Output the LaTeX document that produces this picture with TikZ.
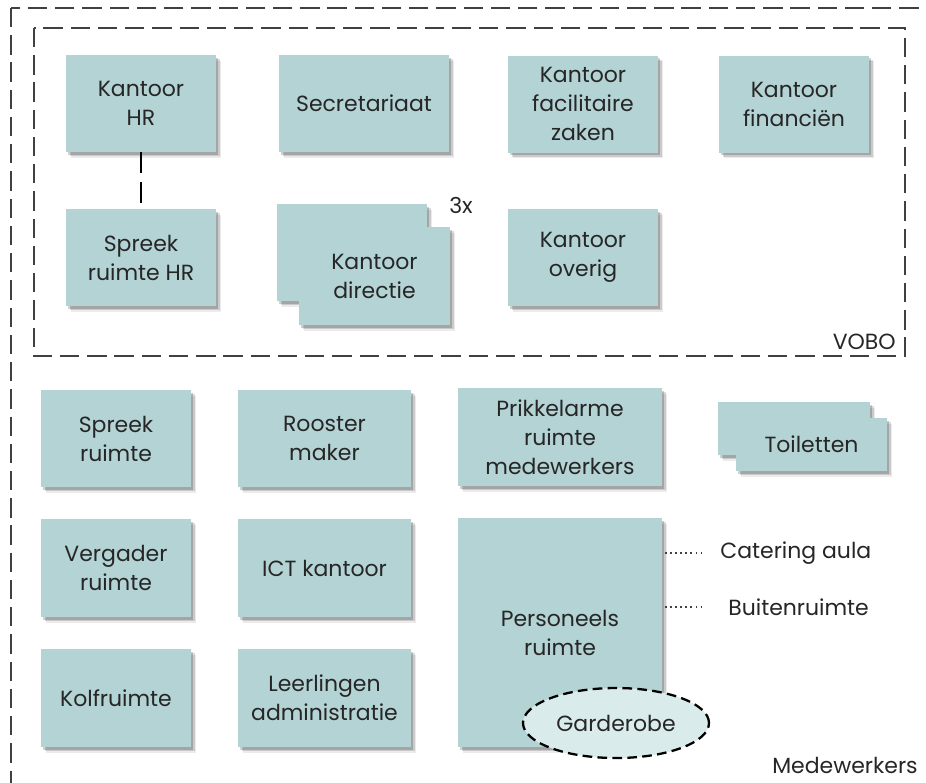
\documentclass[tikz,border=0pt]{standalone}
\usepackage{fontspec}
\setmainfont{Poppins}
\usetikzlibrary{shadows,shapes.geometric,calc}
\definecolor{boxc}{HTML}{B4D3D5}
\definecolor{ellc}{HTML}{DAEBEC}
\definecolor{txt}{HTML}{262626}
\definecolor{framec}{HTML}{404040}
\tikzset{
  room/.style={rectangle, fill=boxc, draw=none, align=center, inner sep=0pt,
    text=txt, font=\fontsize{12.5}{16.5}\selectfont,
    drop shadow={shadow xshift=1.2pt, shadow yshift=-1.6pt, opacity=0.18, fill=black},
    drop shadow={shadow xshift=2.0pt, shadow yshift=-2.5pt, opacity=0.14, fill=black},
    drop shadow={shadow xshift=2.8pt, shadow yshift=-3.3pt, opacity=0.08, fill=black}},
  sz/.style 2 args={minimum width=#1*0.02cm, minimum height=#2*0.02cm},
  lbl/.style={inner sep=0pt, text=txt, font=\fontsize{12.5}{16.5}\selectfont},
  frame/.style={draw=framec, line width=1.1pt, dash pattern=on 11pt off 4.5pt},
}
\begin{document}
\begin{tikzpicture}[x=0.02cm,y=-0.02cm]
\useasboundingbox (0,0) rectangle (926,782);
\clip (0,0) rectangle (926,782);
% outer and VOBO frames
\draw[frame] (11,8) rectangle (960,820);
\draw[frame] (34,28) rectangle (905,356);
\node[lbl, anchor=east] (vobo) at (896,342) {VOBO};
\node[lbl, anchor=east] (med) at (918,765) {Medewerkers};
% VOBO rooms
\node[room, sz={150}{97}] (hr) at (141,103.5) {Kantoor\\HR};
\node[room, sz={170}{97}] (secr) at (364,103.5) {Secretariaat};
\node[room, sz={150}{97}] (fac) at (583,104) {Kantoor\\facilitaire\\zaken};
\node[room, sz={150}{97}] (fin) at (794,104) {Kantoor\\financiën};
\node[room, sz={150}{97}] (sphr) at (141,257.5) {Spreek\\ruimte HR};
\node[room, sz={150}{97}] (dirb) at (352,252.5) {};
\node[room, sz={151}{98}] (dir) at (374.5,276) {Kantoor\\directie};
\node[lbl] (drie) at (461,205) {3x};
\node[room, sz={150}{97}] (ovr) at (583,257.5) {Kantoor\\overig};
\draw[draw=black, line width=1.2pt, dash pattern=on 12pt off 5pt] (hr.south) -- (sphr.north);
% staff rooms
\node[room, sz={150}{97}] (sr) at (116,438.5) {Spreek\\ruimte};
\node[room, sz={173}{97}] (rm) at (324.5,438.5) {Rooster\\maker};
\node[room, sz={204}{98}] (prik) at (560,437) {Prikkelarme\\ruimte\\medewerkers};
\node[room, sz={152}{53}] (toilb) at (794,428.5) {};
\node[room, sz={151}{53}] (toil) at (811.5,444.5) {Toiletten};
\node[room, sz={150}{98}] (verg) at (116,568) {Vergader\\ruimte};
\node[room, sz={173}{98}] (ict) at (324.5,568) {ICT kantoor};
\node[room, sz={204}{229}] (pers) at (560,632.5) {Personeels\\ruimte};
\node[room, sz={150}{98}] (kolf) at (116,698) {Kolfruimte};
\node[room, sz={173}{98}] (leer) at (324.5,698) {Leerlingen\\administratie};
\node[ellipse, fill=ellc, draw=black, line width=1.3pt, dash pattern=on 5.5pt off 3pt,
  minimum width=186*0.02cm, minimum height=70*0.02cm, inner sep=0pt, text=txt,
  font=\fontsize{12.5}{16.5}\selectfont] (gard) at (616,723) {Garderobe};
% external connections
\node[lbl, anchor=west] (cat) at (720,553) {Catering aula};
\node[lbl, anchor=west] (buit) at (728,607) {Buitenruimte};
\coordinate (c1) at (665,553);
\coordinate (c2) at (665,607);
\coordinate (e1) at (703,553);
\coordinate (e2) at (703,607);
\draw[framec, line width=0.9pt, dotted] (c1) -- (e1);
\draw[framec, line width=0.9pt, dotted] (c2) -- (e2);
\end{tikzpicture}
\end{document}
